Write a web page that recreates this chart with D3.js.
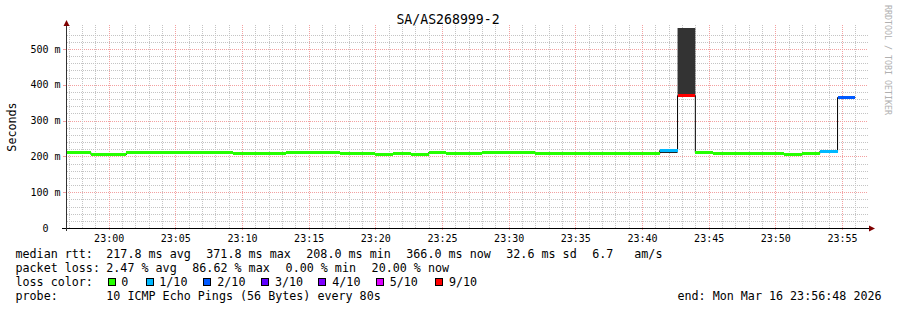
<!DOCTYPE html>
<html>
<head>
<meta charset="utf-8">
<script src="https://cdn.jsdelivr.net/npm/d3@7"></script>
<style>
  html, body { margin: 0; padding: 0; background: #ffffff; }
  svg text { font-family: "DejaVu Sans Mono", monospace; white-space: pre; }
</style>
</head>
<body>
<script>
// ---------------- data ----------------
const titleText = "SA/AS268999-2";
const yLabelText = "Seconds";
const watermark = "RRDTOOL / TOBI OETIKER";
const yTickValues = [0, 100, 200, 300, 400, 500];
const yTickLabels = ["0", "100 m", "200 m", "300 m", "400 m", "500 m"];
const xTickLabels = ["23:00", "23:05", "23:10", "23:15", "23:20", "23:25", "23:30", "23:35", "23:40", "23:45", "23:50", "23:55"];
const rangeStart = "2026-03-16 22:56:48";
const rangeEnd = "2026-03-16 23:56:48";
const firstStepEnd = "2026-03-16 22:57:20";
const stepSeconds = 80;
// median rtt per 80 s step (ms)
const median = [
  213, 213, 208, 208, 213, 213, 213, 213, 213, 213,
  210.5, 210.5, 210.5, 213, 213, 213, 210.5, 210.5, 208, 210.5,
  208, 213, 210.5, 210.5, 213, 213, 213, 210.5, 210.5, 210.5,
  210.5, 210.5, 210.5, 210.5, 218, 371.8, 213, 210.5, 210.5, 210.5,
  210.5, 208, 210.5, 216, 366.0
];
// lost pings out of 10 per step
const lossTenths = [
  0, 0, 0, 0, 0, 0, 0, 0, 0, 0,
  0, 0, 0, 0, 0, 0, 0, 0, 0, 0,
  0, 0, 0, 0, 0, 0, 0, 0, 0, 0,
  0, 0, 0, 0, 1, 9, 0, 0, 0, 0,
  0, 0, 0, 1, 2
];
// visible smoke (ping spread) per step
const smokeStep = [34, 35, 43];
const smokeLo = [209.5, 371.8, 209.5];
const smokeHi = [214.5, 558, 212];
// loss colour legend
const lossLegendLabels = ["0", "1/10", "2/10", "3/10", "4/10", "5/10", "9/10"];
const lossLegendValues = [0, 1, 2, 3, 4, 5, 9];
// statistics legend
const rttStats = ["217.8 ms avg", "371.8 ms max", "208.0 ms min", "366.0 ms now", "32.6 ms sd", "6.7", "am/s"];
const lossStats = ["2.47 % avg", "86.62 % max", "0.00 % min", "20.00 % now"];
const probeText = "10 ICMP Echo Pings (56 Bytes) every 80s";
const endText = "end: Mon Mar 16 23:56:48 2026";

// ---------------- styles ----------------
const lossColors = ["#26ff00", "#00b8ff", "#0059ff", "#5e00ff", "#7e00ff", "#dd00ff", "#ff0000"];
const smokeColors = ["#222222", "#333333", "#c8c8c8"];
const W = 897, H = 310;
const plot = { left: 66, right: 866, top: 25, bottom: 228 };

const parse = d3.timeParse("%Y-%m-%d %H:%M:%S");
const t0 = parse(rangeStart), t1 = parse(rangeEnd), tFirst = parse(firstStepEnd);

const x = d3.scaleTime().domain([t0, t1]).range([plot.left, plot.right]);
const y = d3.scaleLinear().domain([0, 500]).range([228, 49]);

const svg = d3.select("body").append("svg")
  .attr("width", W).attr("height", H)
  .attr("viewBox", `0 0 ${W} ${H}`);

svg.append("rect").attr("width", W).attr("height", H).attr("fill", "#ffffff");

// clip
svg.append("defs").append("clipPath").attr("id", "plotclip")
  .append("rect").attr("x", plot.left).attr("y", plot.top - 3)
  .attr("width", plot.right - plot.left).attr("height", plot.bottom - plot.top + 3);

// ---------------- grid ----------------
const grid = svg.append("g");
const minorColor = "#c4c4c4", majorColor = "#f3a0a0";

// horizontal minor every 20 ms
const yMinor = d3.range(20, 541, 20).filter(v => v % 100 !== 0);
grid.selectAll("line.hmin").data(yMinor).join("line")
  .attr("x1", plot.left + 1).attr("x2", plot.right + 2)
  .attr("y1", d => Math.round(y(d)) + 0.5).attr("y2", d => Math.round(y(d)) + 0.5)
  .attr("stroke", minorColor).attr("stroke-dasharray", "1,1");
grid.selectAll("line.hmaj").data(yTickValues.filter(v => v > 0)).join("line")
  .attr("x1", plot.left - 2).attr("x2", plot.right + 2)
  .attr("y1", d => Math.round(y(d)) + 0.5).attr("y2", d => Math.round(y(d)) + 0.5)
  .attr("stroke", majorColor).attr("stroke-dasharray", "1,1");

// vertical minor every minute, major every 5 minutes
const minutes = d3.timeMinute.range(d3.timeMinute.ceil(t0), t1);
grid.selectAll("line.vmin").data(minutes.filter(d => d.getMinutes() % 5 !== 0)).join("line")
  .attr("x1", d => Math.round(x(d)) + 0.5).attr("x2", d => Math.round(x(d)) + 0.5)
  .attr("y1", plot.top).attr("y2", plot.bottom)
  .attr("stroke", minorColor).attr("stroke-dasharray", "1,1");
const majors = minutes.filter(d => d.getMinutes() % 5 === 0);
grid.selectAll("line.vmaj").data(majors).join("line")
  .attr("x1", d => Math.round(x(d)) + 0.5).attr("x2", d => Math.round(x(d)) + 0.5)
  .attr("y1", plot.top).attr("y2", plot.bottom + 2)
  .attr("stroke", majorColor).attr("stroke-dasharray", "1,1");

// ---------------- data marks ----------------
const steps = median.map((v, i) => {
  const end = d3.timeSecond.offset(tFirst, i * stepSeconds);
  const start = d3.timeSecond.offset(end, -stepSeconds);
  return { i, start, end, v, loss: lossTenths[i] };
});

const marks = svg.append("g").attr("clip-path", "url(#plotclip)");

// smoke
smokeStep.forEach((si, j) => {
  const s = steps[si];
  marks.append("rect")
    .attr("x", x(s.start)).attr("width", x(s.end) - x(s.start))
    .attr("y", Math.round(y(smokeHi[j])))
    .attr("height", Math.round(y(smokeLo[j])) - Math.round(y(smokeHi[j])))
    .attr("fill", smokeColors[j]);
});

// thin black median step line
const stepPts = steps.map(s => [s.start, s.v]).concat([[steps[steps.length - 1].end, steps[steps.length - 1].v]]);
marks.append("path")
  .attr("d", d3.line().x(d => x(d[0])).y(d => Math.round(y(d[1])) + 0.5).curve(d3.curveStepAfter)(stepPts))
  .attr("fill", "none").attr("stroke", "#000000").attr("stroke-width", 1);

// coloured median segments
function lossColor(l) {
  let idx = 0;
  lossLegendValues.forEach((lv, k) => { if (l >= lv) idx = k; });
  return lossColors[idx];
}
marks.selectAll("rect.med").data(steps).join("rect")
  .attr("x", d => x(d.start)).attr("width", d => x(d.end) - x(d.start))
  .attr("y", d => Math.round(y(d.v)) - 1).attr("height", 3)
  .attr("fill", d => lossColor(d.loss))
  .attr("shape-rendering", "crispEdges");

// ---------------- axes ----------------
const axisColor = "#000000", arrowColor = "#7f0000";
// y ticks
svg.selectAll("line.ytick").data(yTickValues).join("line")
  .attr("x1", plot.left - 3).attr("x2", plot.left)
  .attr("y1", d => Math.round(y(d)) + 0.5).attr("y2", d => Math.round(y(d)) + 0.5)
  .attr("stroke", d => d === 0 ? axisColor : majorColor);
// bottom axis
svg.append("line").attr("x1", plot.left - 4).attr("x2", plot.right + 3)
  .attr("y1", plot.bottom + 0.5).attr("y2", plot.bottom + 0.5).attr("stroke", axisColor);
// left axis
svg.append("line").attr("x1", plot.left + 0.5).attr("x2", plot.left + 0.5)
  .attr("y1", plot.top - 1).attr("y2", plot.bottom + 3).attr("stroke", "#333333");
// arrows
svg.append("path")
  .attr("d", `M${plot.left + 0.5},${plot.top - 5} L${plot.left + 3.5},${plot.top + 1} L${plot.left - 2.5},${plot.top + 1} Z`)
  .attr("fill", arrowColor);
svg.append("path")
  .attr("d", `M${plot.right + 9},${plot.bottom + 0.5} L${plot.right + 3},${plot.bottom - 2.5} L${plot.right + 3},${plot.bottom + 3.5} Z`)
  .attr("fill", arrowColor);

// y tick labels
svg.selectAll("text.ylab").data(yTickValues).join("text")
  .attr("x", (d, i) => yTickLabels[i].length === 1 ? 48.5 : 60.5)
  .attr("y", d => y(d) + 3.6)
  .attr("text-anchor", "end").attr("font-size", 10).attr("fill", "#000")
  .text((d, i) => yTickLabels[i]);

// x tick labels
svg.selectAll("text.xlab").data(majors).join("text")
  .attr("x", d => x(d) + 0.5).attr("y", 241.5)
  .attr("text-anchor", "middle").attr("font-size", 10).attr("fill", "#000")
  .text((d, i) => xTickLabels[i]);

// title
svg.append("text").attr("x", 448).attr("y", 24).attr("text-anchor", "middle")
  .attr("font-size", 13.2).attr("fill", "#000").text(titleText);

// y axis label
svg.append("text").attr("transform", "translate(15.5,127) rotate(-90)")
  .attr("text-anchor", "middle").attr("font-size", 11.7).attr("fill", "#000").text(yLabelText);

// watermark
svg.append("text").attr("transform", "translate(884.5,5) rotate(90)")
  .attr("font-size", 8.3).attr("fill", "#b0b0b0").text(watermark);

// ---------------- legend ----------------
const lg = svg.append("g").attr("font-size", 11.7).attr("fill", "#000");
const row = [258.3, 272.3, 286.4, 300.4];
lg.append("text").attr("x", 15.5).attr("y", row[0]).text("median rtt:");
const rttX = [106.3, 206.3, 306.3, 406.3, 506.3, 592.3, 634.3];
rttStats.forEach((s, i) => lg.append("text").attr("x", rttX[i]).attr("y", row[0]).text(s));

lg.append("text").attr("x", 15.5).attr("y", row[1]).text("packet loss:");
const lossX = [106.3, 192.3, 285.6, 371.6];
lossStats.forEach((s, i) => lg.append("text").attr("x", lossX[i]).attr("y", row[1]).text(s));

lg.append("text").attr("x", 15.5).attr("y", row[2]).text("loss color:");
const boxX = [108, 146, 203, 261, 318, 376, 435];
const boxTextX = [121.3, 159.3, 217.3, 275, 332.3, 389.7, 449];
lossLegendLabels.forEach((s, i) => {
  lg.append("rect").attr("x", boxX[i] + 0.5).attr("y", 278.5).attr("width", 7).attr("height", 7)
    .attr("fill", lossColors[i]).attr("stroke", "#000").attr("stroke-width", 1);
  lg.append("text").attr("x", boxTextX[i]).attr("y", row[2]).text(s);
});

lg.append("text").attr("x", 15.5).attr("y", row[3]).text("probe:");
lg.append("text").attr("x", 106.3).attr("y", row[3]).text(probeText);
lg.append("text").attr("x", 677.5).attr("y", row[3]).text(endText);
</script>
</body>
</html>
